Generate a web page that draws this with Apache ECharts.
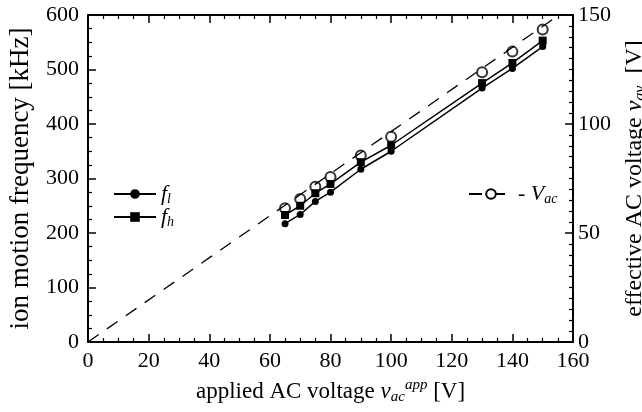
<!DOCTYPE html>
<html>
<head>
<meta charset="utf-8">
<script src="https://cdn.jsdelivr.net/npm/echarts@6/dist/echarts.min.js"></script>
<style>html,body{margin:0;padding:0;background:#fff}#c{width:642px;height:412px}</style>
</head>
<body>
<div id="c"></div>
<script>
// applied AC voltage [V]
const voltages = [65, 70, 75, 80, 90, 100, 130, 140, 150];
// ion motion frequency f_l [kHz]
const fLow = [217, 234, 258, 275, 317, 350, 466, 502, 542];
// ion motion frequency f_h [kHz]
const fHigh = [233, 250, 273, 290, 330, 361, 475, 512, 553];
// effective AC voltage V_av [V]
const vEff = [61.3, 65.6, 71.2, 75.7, 85.6, 94.2, 123.7, 133.2, 143.4];
// dashed reference line (start/end) for V_ac
const fitX = [0, 155.4];
const fitV = [0, 150];
const xTicks = [0, 20, 40, 60, 80, 100, 120, 140, 160];
const leftTicks = [0, 100, 200, 300, 400, 500, 600];
const rightTicks = [0, 50, 100, 150];

const FONT = 'Liberation Serif';
const zip = (a, b) => a.map((v, i) => [v, b[i]]);
function mkRich(base, subSize, subPad) {
  return {
    n: {fontFamily: FONT, fontSize: base, color: '#000'},
    i: {fontFamily: FONT, fontSize: base, fontStyle: 'italic', color: '#000'},
    sub: {fontFamily: FONT, fontSize: subSize, fontStyle: 'italic', color: '#000', verticalAlign: 'bottom', padding: [subPad, 0, 0, 0]},
    sup: {fontFamily: FONT, fontSize: subSize, fontStyle: 'italic', color: '#000', verticalAlign: 'top', padding: [0, 0, subPad - 2, 0]}
  };
}
const axisLine = () => ({show: true, onZero: false, lineStyle: {color: '#000', width: 2}});
const label = (m) => ({margin: m, fontFamily: FONT, fontSize: 22, color: '#000'});
const tick = () => ({show: true, inside: true, length: 8, lineStyle: {color: '#000', width: 1.5}});
const minor = (n) => ({show: true, splitNumber: n, length: 4, lineStyle: {color: '#000', width: 1.2}});

const chart = echarts.init(document.getElementById('c'), null, {renderer: 'canvas'});
chart.setOption({
  animation: false,
  backgroundColor: '#fff',
  grid: {left: 88, right: 69, top: 15, bottom: 70, containLabel: false, outerBoundsMode: 'none'},
  xAxis: [{
    type: 'value', position: 'bottom', min: xTicks[0], max: xTicks[xTicks.length - 1], interval: 20,
    axisLine: axisLine(), axisTick: tick(), minorTick: minor(4), splitLine: {show: false},
    axisLabel: label(8),
    name: '{n|applied AC voltage }{i|v}{sub|ac}{sup|app}{n| [V]}',
    nameLocation: 'middle', nameGap: 36,
    nameTextStyle: {rich: mkRich(23, 15, 12)}
  }, {
    type: 'value', position: 'top', min: xTicks[0], max: xTicks[xTicks.length - 1], interval: 20,
    axisLine: axisLine(), axisTick: tick(), minorTick: minor(4), splitLine: {show: false},
    axisLabel: {show: false}
  }],
  yAxis: [{
    type: 'value', position: 'left', min: leftTicks[0], max: leftTicks[leftTicks.length - 1], interval: 100,
    axisLine: axisLine(), axisTick: tick(), minorTick: minor(4), splitLine: {show: false},
    axisLabel: label(9),
    name: '{n|ion motion frequency [kHz]}', nameLocation: 'middle', nameGap: 54, nameRotate: 90,
    nameTextStyle: {rich: mkRich(27, 17, 12)}
  }, {
    type: 'value', position: 'right', min: rightTicks[0], max: rightTicks[rightTicks.length - 1], interval: 50,
    axisLine: axisLine(), axisTick: tick(), minorTick: minor(10), splitLine: {show: false},
    axisLabel: label(5),
    name: '{n|effective AC voltage }{i|v}{sub|av}{n|  [V]}', nameLocation: 'middle', nameGap: 48, nameRotate: 90,
    nameMoveOverlap: false,
    nameTextStyle: {padding: [0, 0, 6, 0], rich: mkRich(24, 16, 12)}
  }],
  legend: [{
    data: ['fl', 'fh'], orient: 'vertical', left: 108, top: 178,
    itemWidth: 42, itemHeight: 12, itemGap: 0,
    formatter: (n) => n === 'fl' ? '{i|f}{sub|l}' : '{i|f}{sub|h}',
    textStyle: {rich: mkRich(22, 14, 10)}
  }, {
    data: ['Vac'], orient: 'vertical', left: 463, top: 178,
    itemWidth: 44, itemHeight: 12,
    formatter: () => '{i|- V}{sub|ac}',
    textStyle: {rich: mkRich(22, 14, 10)}
  }],
  series: [{
    name: 'fl', type: 'line', xAxisIndex: 0, yAxisIndex: 0, data: zip(voltages, fLow),
    symbol: 'circle', symbolSize: 7, itemStyle: {color: '#000'},
    lineStyle: {color: '#000', width: 1.5}
  }, {
    name: 'fh', type: 'line', xAxisIndex: 0, yAxisIndex: 0, data: zip(voltages, fHigh),
    symbol: 'rect', symbolSize: 8, itemStyle: {color: '#000'},
    lineStyle: {color: '#000', width: 1.5}
  }, {
    name: 'Vac', type: 'line', xAxisIndex: 0, yAxisIndex: 1, data: zip(fitX, fitV),
    symbol: 'emptyCircle', showSymbol: false, symbolSize: 9,
    itemStyle: {color: '#000', borderWidth: 1.3},
    lineStyle: {color: '#000', width: 1.3, type: [13, 10]}
  }, {
    name: 'VacPts', type: 'scatter', xAxisIndex: 0, yAxisIndex: 1, data: zip(voltages, vEff),
    symbol: 'emptyCircle', symbolSize: 10,
    itemStyle: {color: '#000', borderColor: '#000', borderWidth: 1.5}
  }]
});
</script>
</body>
</html>
